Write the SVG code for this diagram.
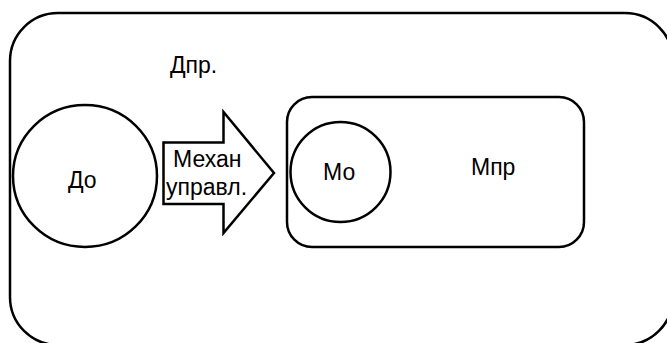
<svg xmlns="http://www.w3.org/2000/svg" width="667" height="343" viewBox="0 0 667 343">
  <style>
    .shape { fill: #ffffff; stroke: #000000; stroke-width: 2.5; }
    .lbl { font-family: "Liberation Sans", Arial, sans-serif; font-size: 23px; fill: #000000; }
  </style>
  <rect width="667" height="343" fill="#ffffff"/>
  <g id="node-dpr">
    <rect class="shape" x="10" y="13" width="663" height="332" rx="48" ry="48"/>
    <text class="lbl" x="170" y="73">Дпр.</text>
  </g>
  <g id="node-do">
    <ellipse class="shape" cx="85" cy="176" rx="72" ry="71"/>
    <text class="lbl" x="68" y="188">До</text>
  </g>
  <g id="connectors">
    <g id="arrow-mech">
      <polygon class="shape" points="163.5,142.5 223.5,142.5 223.5,112 274,173 223.5,233 223.5,204 163.5,204"/>
      <text class="lbl" x="173" y="167">Механ</text>
      <text class="lbl" x="166" y="195">управл.</text>
    </g>
  </g>
  <g id="node-mpr">
    <rect class="shape" x="287" y="97" width="297" height="150" rx="25" ry="25"/>
    <text class="lbl" x="471" y="175">Мпр</text>
  </g>
  <g id="node-mo">
    <circle class="shape" cx="340.5" cy="172" r="50"/>
    <text class="lbl" x="323" y="180">Мо</text>
  </g>
</svg>
